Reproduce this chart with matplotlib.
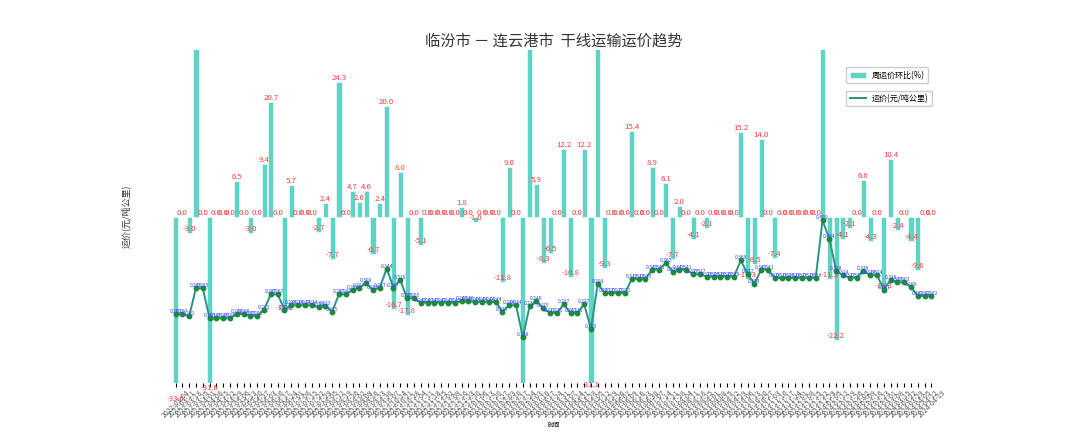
import matplotlib
matplotlib.use('Agg')
import matplotlib.pyplot as plt
import numpy as np
import pandas as pd

plt.rcParams['font.family'] = ['Noto Sans CJK SC', 'DejaVu Sans']
plt.rcParams['axes.unicode_minus'] = False

DATES = list(pd.date_range('2022-03-04', periods=112, freq='7D').strftime('%Y-%m-%d'))

PRICE = [
    0.207, 0.207, 0.201, 0.285, 0.285, 0.195, 0.195, 0.195, 0.195, 0.208,
    0.208, 0.202, 0.202, 0.221, 0.267, 0.267, 0.221, 0.234, 0.234, 0.234,
    0.234, 0.228, 0.233, 0.215, 0.267, 0.267, 0.280, 0.287, 0.300, 0.280,
    0.287, 0.344, 0.287, 0.310, 0.255, 0.255, 0.242, 0.242, 0.242, 0.242,
    0.242, 0.242, 0.246, 0.246, 0.244, 0.244, 0.244, 0.244, 0.215, 0.234,
    0.234, 0.138, 0.232, 0.246, 0.225, 0.211, 0.211, 0.237, 0.211, 0.211,
    0.237, 0.163, 0.299, 0.271, 0.271, 0.271, 0.271, 0.313, 0.313, 0.313,
    0.341, 0.341, 0.362, 0.334, 0.341, 0.341, 0.327, 0.327, 0.320, 0.320,
    0.320, 0.320, 0.320, 0.369, 0.327, 0.299, 0.341, 0.341, 0.316, 0.316,
    0.316, 0.316, 0.316, 0.316, 0.316, 0.489, 0.434, 0.338, 0.324, 0.317,
    0.317, 0.338, 0.324, 0.324, 0.281, 0.310, 0.303, 0.303, 0.289, 0.262,
    0.262, 0.262,
]

CHANGE = [
    -33.6, 0.0, -3.0, 41.8, 0.0, -31.6, 0.0, 0.0, 0.0, 6.5,
    0.0, -3.0, 0.0, 9.4, 20.7, 0.0, -17.2, 5.7, 0.0, 0.0,
    0.0, -2.7, 2.4, -7.7, 24.3, 0.0, 4.7, 2.6, 4.6, -6.7,
    2.4, 20.0, -16.7, 8.0, -17.8, 0.0, -5.1, 0.0, 0.0, 0.0,
    0.0, 0.0, 1.8, 0.0, -1.0, 0.0, 0.0, 0.0, -11.8, 9.0,
    0.0, -41.0, 68.1, 5.9, -8.3, -6.5, 0.0, 12.2, -10.8, 0.0,
    12.2, -31.1, 83.4, -9.3, 0.0, 0.0, 0.0, 15.4, 0.0, 0.0,
    8.9, 0.0, 6.1, -7.7, 2.0, 0.0, -4.1, 0.0, -2.1, 0.0,
    0.0, 0.0, 0.0, 15.2, -11.3, -8.5, 14.0, 0.0, -7.4, 0.0,
    0.0, 0.0, 0.0, 0.0, 0.0, 54.7, -11.3, -22.2, -4.1, -2.1,
    0.0, 6.6, -4.3, 0.0, -13.3, 10.4, -2.4, 0.0, -4.4, -9.6,
    0.0, 0.0,
]

TITLE = '临汾市 － 连云港市  干线运输运价趋势'
BAR_LABEL = '周运价环比(%)'
LINE_LABEL = '运价(元/吨公里)'
X_LABEL = '时间'

fig = plt.figure(figsize=(10.8, 4.32), dpi=100)
ax1 = fig.add_axes([0.125, 0.113, 0.775, 0.771])
x = np.arange(len(DATES))

ax1.bar(x, CHANGE, width=0.75, color='#5fd3c4', edgecolor='white',
        linewidth=0.4, label=BAR_LABEL)
for xi, v in zip(x, CHANGE):
    # labels of bars far beyond the axis range fall outside the canvas
    if -38 < v < 38:
        ax1.text(xi, v, f'{v:.1f}', ha='center', va='bottom', color='#ff3b3b',
                 fontsize=5.6, clip_on=False)
ax1.set_ylim(-30, 30)
ax1.set_xlim(-5.95, len(DATES) - 1 + 5.95)

ax2 = ax1.twinx()
ax2.plot(x, PRICE, color='#2a9484', lw=1.4, label=LINE_LABEL)
ax2.plot(x, PRICE, linestyle='none', marker='o', ms=3.2,
         mfc='#1b8a3a', mec='#1b8a3a')
for xi, p in zip(x, PRICE):
    ax2.text(xi, p, f'{p:.3f}', ha='center', va='bottom', color='#3344ff',
             fontsize=3.6)
ax2.set_ylim(0, 1)

for a in (ax1, ax2):
    for sp in a.spines.values():
        sp.set_visible(False)
ax1.tick_params(axis='y', left=False, labelleft=False)
ax2.tick_params(axis='y', right=False, labelright=False)
ax1.set_xticks(x)
ax1.set_xticklabels(DATES, rotation=45, fontsize=5, color='#555555')
ax1.tick_params(axis='x', length=3, width=0.8, pad=1)

ax1.set_ylabel(LINE_LABEL, fontsize=6.5, labelpad=3, color='#333333')
ax1.set_xlabel(X_LABEL, fontsize=4.5, labelpad=1)
ax1.set_title(TITLE, fontsize=11, pad=3, color='#333333')

ax1.legend(loc='upper left', bbox_to_anchor=(0.845, 0.96), fontsize=5.8,
           framealpha=1)
ax2.legend(loc='upper left', bbox_to_anchor=(0.845, 0.89), fontsize=5.8,
           framealpha=1)

fig.savefig('out.png', dpi=100)
